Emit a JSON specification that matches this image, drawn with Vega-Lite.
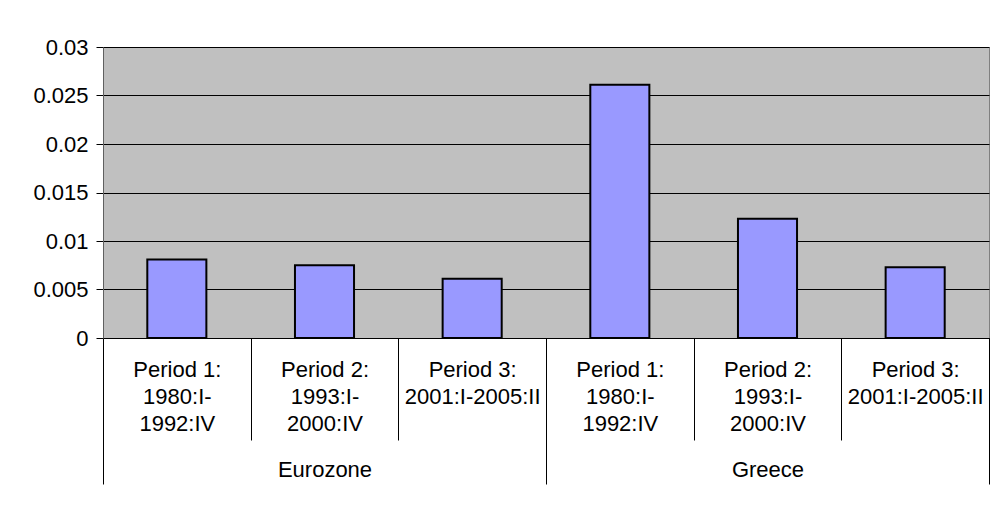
{
  "$schema": "https://vega.github.io/schema/vega-lite/v6.json",
  "autosize": "none",
  "width": 886,
  "height": 291,
  "padding": {"left": 103, "top": 47, "right": 10, "bottom": 169},
  "background": "white",
  "config": {
    "font": "Liberation Sans",
    "view": {"fill": "#C0C0C0", "stroke": "#808080", "strokeWidth": 1},
    "axis": {"labelFont": "Liberation Sans", "labelColor": "#000000", "titleColor": "#000000"}
  },
  "data": {
    "values": [
      {"group": "Eurozone", "period": "Period 1:~1980:I-~1992:IV", "value": 0.0081},
      {"group": "Eurozone", "period": "Period 2:~1993:I-~2000:IV", "value": 0.0075},
      {"group": "Eurozone", "period": "Period 3:~2001:I-2005:II", "value": 0.0061},
      {"group": "Greece", "period": "Period 1:~1980:I-~1992:IV", "value": 0.0261},
      {"group": "Greece", "period": "Period 2:~1993:I-~2000:IV", "value": 0.0123},
      {"group": "Greece", "period": "Period 3:~2001:I-2005:II", "value": 0.0073}
    ]
  },
  "transform": [{"calculate": "datum.group + '|' + datum.period", "as": "key"}],
  "layer": [
    {
      "mark": {"type": "bar", "fill": "#9999FF", "stroke": "#000000", "strokeWidth": 2, "width": {"band": 0.4}},
      "encoding": {
        "x": {
          "field": "key",
          "type": "nominal",
          "sort": null,
          "scale": {"paddingInner": 0, "paddingOuter": 0},
          "axis": {
            "orient": "bottom",
            "title": null,
            "labelExpr": "indexof(datum.label + '', '|') > 0 ? split(split(datum.label, '|')[1], '~') : ''",
            "labelAngle": 0,
            "labelFontSize": 22,
            "labelLineHeight": 27,
            "labelBaseline": "top",
            "labelPadding": -81,
            "labelOverlap": false,
            "labelLimit": 300,
            "tickBand": "extent",
            "tickSize": 102,
            "tickColor": "#000000",
            "tickWidth": 1,
            "domainColor": "#000000",
            "domainWidth": 1
          }
        },
        "y": {
          "field": "value",
          "type": "quantitative",
          "scale": {"domain": [0, 0.03], "nice": false},
          "axis": {
            "title": null,
            "values": [0, 0.005, 0.01, 0.015, 0.02, 0.025, 0.03],
            "format": "~g",
            "labelFontSize": 22,
            "labelPadding": 8,
            "tickSize": 7,
            "tickColor": "#000000",
            "domainColor": "#606060",
            "domainWidth": 1,
            "grid": true,
            "gridColor": "#000000",
            "gridWidth": 1
          }
        }
      }
    },
    {
      "mark": {"type": "bar", "opacity": 0},
      "encoding": {
        "x": {
          "field": "group",
          "type": "nominal",
          "sort": null,
          "scale": {"paddingInner": 0, "paddingOuter": 0},
          "axis": {
            "orient": "bottom",
            "title": null,
            "labelExpr": "indexof(['Eurozone','Greece'], datum.label) >= 0 ? datum.label : ''",
            "labelAngle": 0,
            "labelFontSize": 22,
            "labelBaseline": "top",
            "labelPadding": -25,
            "labelOverlap": false,
            "tickBand": "extent",
            "tickSize": 146,
            "tickColor": "#000000",
            "tickWidth": 1,
            "domain": false
          }
        }
      }
    }
  ],
  "resolve": {"scale": {"x": "independent"}, "axis": {"x": "independent"}}
}
